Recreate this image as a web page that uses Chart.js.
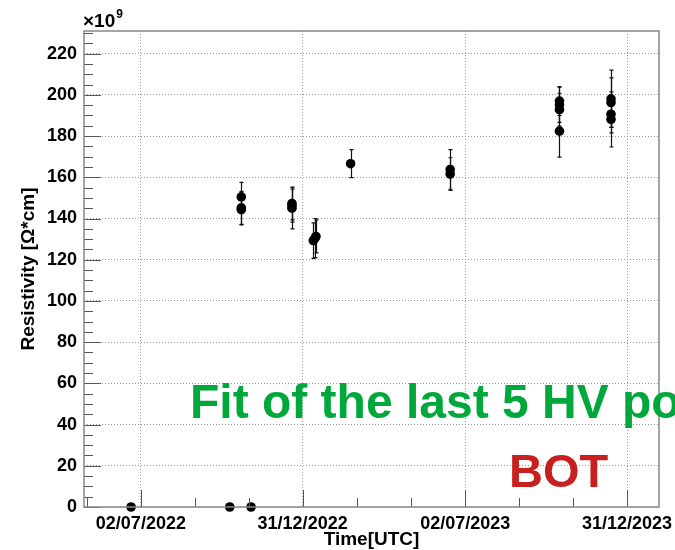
<!DOCTYPE html>
<html>
<head>
<meta charset="utf-8">
<title>Resistivity vs time</title>
<script src="https://cdn.jsdelivr.net/npm/chart.js@4.4.1/dist/chart.umd.min.js"></script>
<style>
  html, body { margin: 0; padding: 0; background: #fff; }
  #wrap { width: 675px; height: 550px; }
</style>
</head>
<body>
<div id="wrap"><canvas id="chart" width="675" height="550"></canvas></div>
<script>
// Measurement dates (UTC), resistivity in units of 1e9 Ohm*cm and its error
const dates = [
  '2022-06-21', '2022-10-10', '2022-10-23', '2022-10-23', '2022-10-23', '2022-11-03',
  '2022-12-19', '2022-12-19', '2022-12-19',
  '2023-01-12', '2023-01-14', '2023-01-15',
  '2023-02-23',
  '2023-06-15', '2023-06-15',
  '2023-10-16', '2023-10-16', '2023-10-16', '2023-10-16',
  '2023-12-13', '2023-12-13', '2023-12-13', '2023-12-13'
];
const resistivity = [
  0, 0, 150.5, 145.2, 144.3, 0,
  147.3, 146.2, 145.0,
  129.3, 130.5, 131.3,
  166.6,
  163.8, 161.6,
  197.0, 195.2, 192.8, 182.4,
  198.1, 196.3, 190.6, 188.1
];
const errors = [
  0, 0, 7.0, 8.0, 7.4, 0,
  8.0, 8.0, 10.0,
  8.6, 9.5, 8.0,
  6.8,
  9.6, 7.9,
  7.0, 8.5, 8.0, 12.6,
  13.9, 12.0, 9.0, 13.4
];

const yTicks = [0, 20, 40, 60, 80, 100, 120, 140, 160, 180, 200, 220];
const yRange = [0, 231];
const xTickDates = ['2022-07-02', '2022-12-31', '2023-07-02', '2023-12-31'];
const xTickLabels = ['02/07/2022', '31/12/2022', '02/07/2023', '31/12/2023'];
const xRange = ['2022-04-29', '2024-02-05'];

const toMs = d => Date.parse(d + 'T00:00:00Z');
const FONT = "'Liberation Sans', Arial, Helvetica, sans-serif";

const points = dates.map((d, i) => ({ x: toMs(d), y: resistivity[i] }));

// Vertical error bars with small end caps, drawn under the markers
const errorBars = {
  id: 'errorBars',
  beforeDatasetsDraw(chart) {
    const { ctx, scales: { x, y } } = chart;
    ctx.save();
    ctx.strokeStyle = '#111';
    ctx.lineWidth = 1.2;
    points.forEach((p, i) => {
      if (!errors[i]) return;
      const px = Math.round(x.getPixelForValue(p.x)) + 0.5;
      const top = y.getPixelForValue(p.y + errors[i]);
      const bot = y.getPixelForValue(p.y - errors[i]);
      ctx.beginPath();
      ctx.moveTo(px, top);
      ctx.lineTo(px, bot);
      ctx.moveTo(px - 2, top);
      ctx.lineTo(px + 2, top);
      ctx.moveTo(px - 2, bot);
      ctx.lineTo(px + 2, bot);
      ctx.stroke();
    });
    ctx.restore();
  }
};

// Frame, inner tick marks, exponent, axis titles and overlay labels
const frame = {
  id: 'frame',
  afterDraw(chart) {
    const { ctx, chartArea: a, scales: { x, y } } = chart;
    ctx.save();

    // ticks on the left and bottom axes, pointing into the plot
    ctx.strokeStyle = '#555';
    ctx.lineWidth = 1;
    ctx.beginPath();
    for (let v = yRange[0]; v <= yRange[1]; v += 5) {
      const len = v % 20 === 0 ? 17 : 9;
      const py = Math.round(y.getPixelForValue(v)) + 0.5;
      ctx.moveTo(a.left, py);
      ctx.lineTo(a.left + len, py);
    }
    const majors = xTickDates.map(toMs);
    const step = (majors[majors.length - 1] - majors[0]) / (majors.length - 1) / 3;
    const lo = toMs(xRange[0]), hi = toMs(xRange[1]);
    for (let k = -6; k <= (majors.length - 1) * 3 + 6; k++) {
      const t = majors[0] + k * step;
      if (t < lo || t > hi) continue;
      const len = k % 3 === 0 ? 17 : 9;
      const px = Math.round(x.getPixelForValue(k % 3 === 0 ? majors[k / 3] ?? t : t)) + 0.5;
      ctx.moveTo(px, a.bottom);
      ctx.lineTo(px, a.bottom - len);
    }
    ctx.stroke();

    // plot frame
    ctx.strokeStyle = '#888';
    ctx.lineWidth = 1.5;
    ctx.strokeRect(a.left, a.top, a.right - a.left, a.bottom - a.top);

    ctx.fillStyle = '#000';
    // axis exponent
    ctx.textAlign = 'left';
    ctx.textBaseline = 'alphabetic';
    ctx.font = 'bold 19px ' + FONT;
    ctx.fillText('\u00d710', 83, 27);
    const w = ctx.measureText('\u00d710').width;
    ctx.font = 'bold 12px ' + FONT;
    ctx.fillText('9', 83 + w + 1, 18);

    // axis titles
    ctx.font = 'bold 19px ' + FONT;
    ctx.textAlign = 'center';
    ctx.fillText('Time[UTC]', (a.left + a.right) / 2, 545);
    ctx.save();
    ctx.translate(34, (a.top + a.bottom) / 2);
    ctx.rotate(-Math.PI / 2);
    ctx.fillText('Resistivity [\u03a9*cm]', 0, 0);
    ctx.restore();

    // overlay labels
    ctx.textAlign = 'left';
    ctx.font = 'bold 48px ' + FONT;
    ctx.fillStyle = '#00a83c';
    ctx.fillText('Fit of the last 5 HV points', 190, 418);
    ctx.font = 'bold 47px ' + FONT;
    ctx.fillStyle = '#c8201f';
    ctx.fillText('BOT', 509, 487);

    ctx.restore();
  }
};

new Chart(document.getElementById('chart'), {
  type: 'scatter',
  data: {
    datasets: [{
      data: points,
      pointRadius: 4.8,
      pointHoverRadius: 4.8,
      pointBackgroundColor: '#000',
      pointBorderColor: '#000',
      pointBorderWidth: 0,
      clip: false
    }]
  },
  options: {
    responsive: false,
    animation: false,
    events: [],
    layout: { padding: { top: 31, right: 16, left: 0, bottom: 0 } },
    plugins: { legend: { display: false }, tooltip: { enabled: false } },
    scales: {
      x: {
        type: 'linear',
        min: toMs(xRange[0]),
        max: toMs(xRange[1]),
        afterBuildTicks: scale => {
          scale.ticks = xTickDates.map(d => ({ value: toMs(d) }));
        },
        afterFit: scale => {
          scale.height = 43;
          scale.paddingLeft = 0;
          scale.paddingRight = 0;
        },
        border: { display: false, dash: [1, 2] },
        grid: { drawTicks: false, color: '#999', lineWidth: 1 },
        ticks: {
          autoSkip: false,
          maxRotation: 0,
          padding: 6,
          color: '#000',
          font: { family: FONT, size: 18, weight: 'bold' },
          callback: (v, i) => xTickLabels[i]
        }
      },
      y: {
        min: yRange[0],
        max: yRange[1],
        afterBuildTicks: scale => {
          scale.ticks = yTicks.map(v => ({ value: v }));
        },
        afterFit: scale => { scale.width = 84; },
        border: { display: false, dash: [1, 2] },
        grid: { drawTicks: false, color: '#999', lineWidth: 1 },
        ticks: {
          padding: 7,
          color: '#000',
          font: { family: FONT, size: 18, weight: 'bold' }
        }
      }
    }
  },
  plugins: [errorBars, frame]
});
</script>
</body>
</html>
